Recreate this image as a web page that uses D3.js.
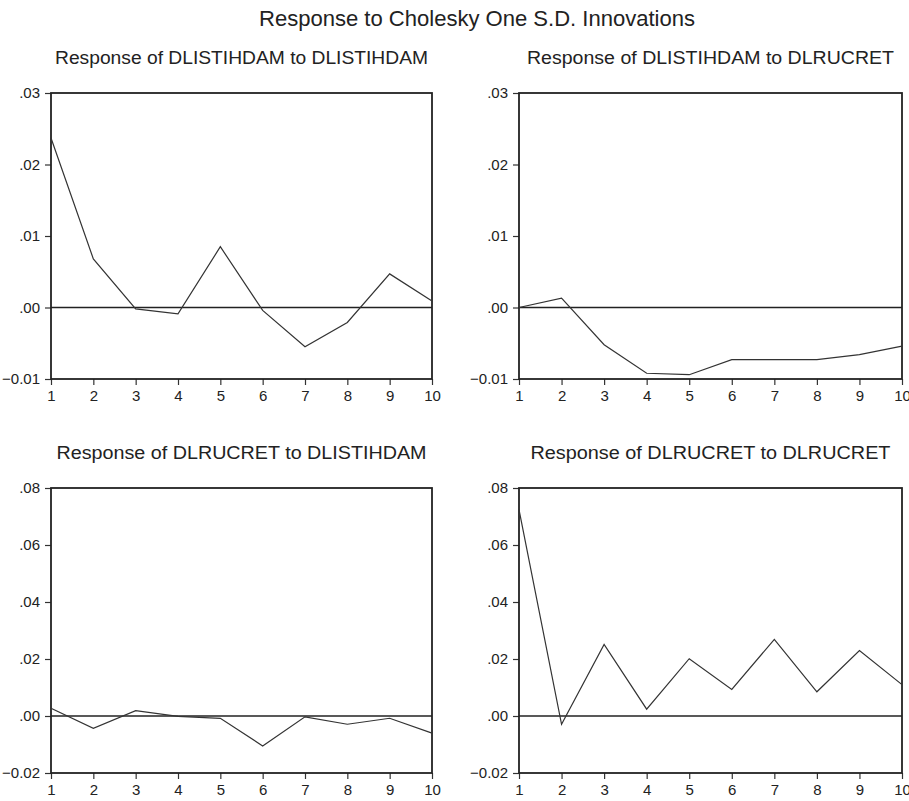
<!DOCTYPE html>
<html>
<head>
<meta charset="utf-8">
<script src="https://cdn.jsdelivr.net/npm/d3@7"></script>
<style>
  body { margin: 0; background: #fff; }
  svg { display: block; font-family: "Liberation Sans", Arial, sans-serif; }
</style>
</head>
<body>
<svg id="chart" width="909" height="801"></svg>
<script>
// periods after the shock
const periods = [1, 2, 3, 4, 5, 6, 7, 8, 9, 10];

// impulse responses
const listOnList = [0.0237, 0.0068, -0.0002, -0.0009, 0.0085, -0.0004, -0.0055, -0.0021, 0.0047, 0.0009];
const listOnRuc  = [0.0000, 0.0013, -0.0052, -0.0092, -0.0094, -0.0073, -0.0073, -0.0073, -0.0066, -0.0054];
const rucOnList  = [0.0027, -0.0043, 0.0019, -0.0001, -0.0008, -0.0105, -0.0003, -0.0029, -0.0008, -0.0060];
const rucOnRuc   = [0.0724, -0.0029, 0.0251, 0.0024, 0.0201, 0.0093, 0.0269, 0.0085, 0.0230, 0.0110];

const panelTitles = [
  "Response of DLISTIHDAM to DLISTIHDAM",
  "Response of DLISTIHDAM to DLRUCRET",
  "Response of DLRUCRET to DLISTIHDAM",
  "Response of DLRUCRET to DLRUCRET"
];
const topTicks = [-0.01, 0.00, 0.01, 0.02, 0.03];
const bottomTicks = [-0.02, 0.00, 0.02, 0.04, 0.06, 0.08];

const mainTitle = "Response to Cholesky One S.D. Innovations";

const svg = d3.select("#chart");

// grid of panels
const cols = [[51, 432], [519, 902]];
const rows = [[93, 379], [488, 773]];

const panels = [
  {title: panelTitles[0], values: listOnList, ticks: topTicks, col: 0, row: 0, tw: 373},
  {title: panelTitles[1], values: listOnRuc, ticks: topTicks, col: 1, row: 0, tw: 367},
  {title: panelTitles[2], values: rucOnList, ticks: bottomTicks, col: 0, row: 1, tw: 370},
  {title: panelTitles[3], values: rucOnRuc, ticks: bottomTicks, col: 1, row: 1, tw: 360}
];

// ".03", "-.01" style labels
const fmt = v => d3.format(".2f")(Math.abs(v) < 1e-9 ? 0 : v).replace(/^(-?)0\./, "$1.");

svg.append("text")
  .attr("x", 477)
  .attr("y", 26)
  .attr("text-anchor", "middle")
  .attr("font-size", 22)
  .attr("fill", "#222")
  .attr("textLength", 436)
  .attr("lengthAdjust", "spacingAndGlyphs")
  .text(mainTitle);

panels.forEach(p => {
  const [x0, x1] = cols[p.col];
  const [y0, y1] = rows[p.row];

  const x = d3.scaleLinear().domain([1, 10]).range([x0, x1]);
  const y = d3.scaleLinear()
              .domain([p.ticks[0], p.ticks[p.ticks.length - 1]])
              .range([y1, y0]);

  const g = svg.append("g");

  g.append("text")
   .attr("x", (x0 + x1) / 2)
   .attr("y", y0 - 29)
   .attr("text-anchor", "middle")
   .attr("font-size", 18)
   .attr("fill", "#222")
   .attr("textLength", p.tw)
   .attr("lengthAdjust", "spacingAndGlyphs")
   .text(p.title);

  // y axis
  const ya = g.append("g")
   .attr("transform", "translate(" + x0 + ",0)")
   .call(d3.axisLeft(y).tickValues(p.ticks).tickFormat(fmt).tickSize(6).tickPadding(5));
  ya.select(".domain").remove();
  ya.selectAll("line").attr("stroke", "#333").attr("stroke-width", 1.2);
  ya.selectAll("text").style("font-size", "15px").attr("fill", "#222");

  // x axis
  const xa = g.append("g")
   .attr("transform", "translate(0," + y1 + ")")
   .call(d3.axisBottom(x).tickValues(periods).tickFormat(d3.format("d")).tickSize(6).tickPadding(5));
  xa.select(".domain").remove();
  xa.selectAll("line").attr("stroke", "#333").attr("stroke-width", 1.2);
  xa.selectAll("text").style("font-size", "15px").attr("fill", "#222");

  // frame
  g.append("rect")
   .attr("x", x0)
   .attr("y", y0)
   .attr("width", x1 - x0)
   .attr("height", y1 - y0)
   .attr("fill", "none")
   .attr("stroke", "#222")
   .attr("stroke-width", 1.8);

  // zero line
  g.append("line")
   .attr("x1", x0)
   .attr("x2", x1)
   .attr("y1", y(0))
   .attr("y2", y(0))
   .attr("stroke", "#222")
   .attr("stroke-width", 1.4);

  const line = d3.line()
                 .x((d, i) => x(periods[i]))
                 .y(d => y(d));

  g.append("path")
   .datum(p.values)
   .attr("d", line)
   .attr("fill", "none")
   .attr("stroke", "#333")
   .attr("stroke-width", 1.2);
});
</script>
</body>
</html>
